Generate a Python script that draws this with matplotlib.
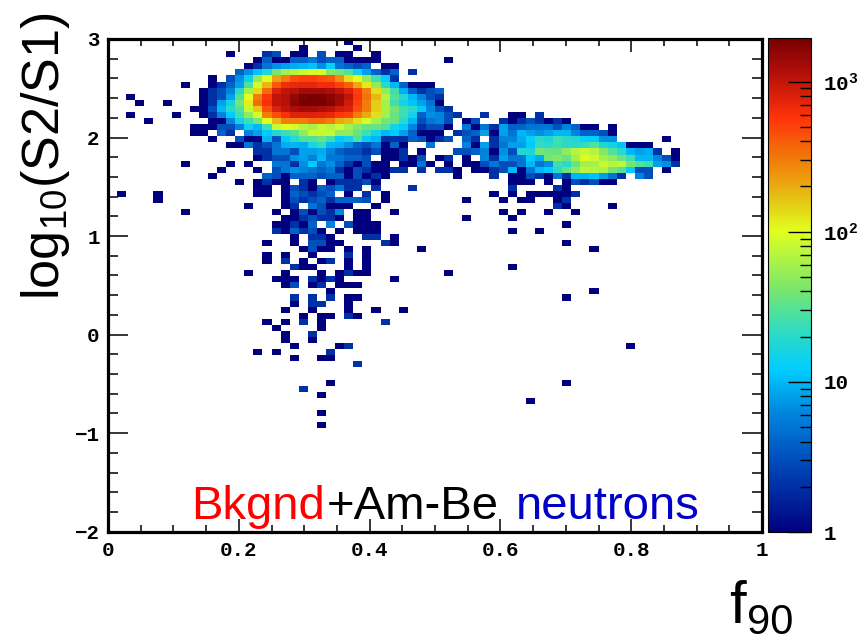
import numpy as np
import matplotlib
matplotlib.use('Agg')
import matplotlib.pyplot as plt
from matplotlib.colors import LogNorm, LinearSegmentedColormap
from matplotlib.ticker import LogLocator, NullFormatter, FixedLocator

plt.rcParams['font.family'] = ['Liberation Sans', 'DejaVu Sans']
plt.rcParams['mathtext.fontset'] = 'custom'
plt.rcParams['mathtext.rm'] = 'Liberation Sans'
plt.rcParams['mathtext.bf'] = 'Liberation Mono:bold'

# histogram binning
n_x = 72
n_y = 81
z_max = 1950

# counts per row, row 0 is the top of the plot: (row, first column, counts)
top_rows = [
    (0, 26, [1]),
    (1, 21, [1]), (1, 27, [1]),
    (2, 13, [1]), (2, 17, [2, 3, 0, 1, 1, 0, 3, 0, 1, 1, 0, 0, 1]),
    (3, 16, [1, 4, 1, 1, 4, 4, 5, 3, 4, 4, 1, 1, 1, 1]), (3, 37, [1]),
    (4, 15, [1, 2, 5, 7, 8, 9, 10, 11, 7, 13, 5, 4, 3, 4, 0, 1, 1]),
    (5, 14, [4, 7, 11, 18, 40, 60, 70, 80, 90, 90, 45, 40, 30, 14, 8, 4, 2, 4, 0, 2]),
    (6, 11, [1, 0, 3, 7, 14, 50, 100, 220, 300, 450, 500, 500, 450, 400, 260, 130, 100, 50, 25, 12, 2]),
    (7, 8, [1]), (7, 11, [1, 2, 4, 8, 28, 90, 180, 400, 650, 700, 720, 720, 650, 650, 500, 380, 200, 120, 50, 20, 10, 4, 1, 1, 1]),
    (8, 10, [1, 2, 3, 6, 20, 60, 140, 350, 800, 1000, 1100, 1300, 1300, 1300, 1200, 1000, 800, 500, 300, 130, 50, 25, 9, 4, 2, 3, 4]),
    (9, 2, [1]), (9, 10, [1, 2, 3, 8, 30, 100, 300, 550, 1000, 1100, 1500, 1800, 1900, 1850, 1600, 1400, 1000, 550, 330, 180, 70, 30, 18, 10, 6, 3, 2]),
    (10, 3, [1]), (10, 6, [1]), (10, 10, [1, 2, 8, 15, 40, 120, 350, 600, 1000, 1100, 1600, 1900, 1950, 1900, 1700, 1300, 900, 500, 300, 150, 60, 25, 15, 11, 8, 5, 1]),
    (11, 9, [1, 1, 3, 10, 20, 30, 80, 160, 450, 800, 1000, 1200, 1300, 1300, 1200, 1100, 900, 800, 450, 300, 150, 60, 40, 25, 20, 12, 6, 3, 2]),
    (12, 2, [1]), (12, 7, [1]), (12, 10, [1, 2, 6, 12, 25, 50, 90, 300, 450, 600, 800, 800, 800, 750, 700, 550, 500, 300, 200, 130, 60, 35, 25, 15, 4, 7, 6, 3, 2, 0, 0, 2, 0, 0, 1, 1, 0, 2]),
    (13, 4, [1]), (13, 11, [1, 1, 6, 15, 25, 40, 100, 180, 300, 300, 300, 350, 350, 300, 200, 180, 130, 90, 60, 40, 35, 20, 10, 3, 5, 6, 3, 0, 1, 3, 0, 0, 2, 1, 2, 3, 2, 1, 2, 1]),
    (14, 9, [1, 1, 1, 3, 3, 6, 14, 10, 25, 80, 100, 90, 70, 60, 80, 70, 85, 60, 45, 35, 35, 30, 15, 12, 6, 2, 3, 3, 1, 0, 5, 1, 5, 2, 8, 4, 4, 5, 5, 5, 3, 6, 4, 1, 1, 0, 1]),
    (15, 9, [1, 1, 0, 4, 2, 0, 6, 8, 12, 18, 25, 30, 50, 80, 80, 80, 50, 50, 35, 25, 15, 10, 12, 8, 4, 1, 1, 1, 0, 2, 3, 4, 8, 1, 8, 5, 10, 8, 7, 8, 10, 10, 6, 4, 4, 3, 1]),
    (16, 11, [1, 0, 0, 3, 1, 1, 10, 3, 12, 20, 30, 30, 35, 25, 12, 15, 30, 12, 10, 2, 2, 2, 4, 3, 1, 2, 3, 0, 4, 2, 0, 2, 6, 6, 9, 13, 20, 17, 25, 20, 18, 13, 12, 7, 7]),
    (16, 61, [1]),
    (17, 13, [1, 1, 5, 2, 3, 5, 9, 10, 9, 16, 23, 10, 9, 7, 4, 3, 5, 1, 4, 1, 0, 0, 5, 0, 0, 0, 6, 1, 8, 2, 5, 8, 8, 12, 22, 20, 25, 20, 20, 22, 30, 18, 15, 11, 1, 1, 1]),
    (18, 16, [2, 2, 5, 5, 3, 8, 8, 9, 6, 4, 3, 3, 2, 3, 1, 1, 2, 0, 1, 0, 0, 0, 3, 3, 4, 6, 1, 7, 3, 18, 17, 40, 35, 35, 50, 70, 80, 70, 45, 30, 20, 10, 8, 9, 2, 0, 1]),
    (19, 16, [1, 2, 3, 3, 7, 8, 6, 10, 5, 5, 4, 4, 3, 0, 1, 1, 2, 1, 3, 0, 1, 2, 0, 1, 0, 6, 2, 8, 5, 5, 12, 9, 40, 45, 35, 60, 95, 85, 60, 50, 35, 25, 10, 10, 6, 3, 1]),
    (20, 8, [1]), (20, 13, [1, 0, 1]), (20, 18, [5, 5, 2, 7, 12, 5, 7, 4, 2, 1, 3, 1, 1, 0, 1, 1, 5, 1, 0, 1, 0, 1, 1, 3, 5, 3, 3, 5, 10, 5, 7, 25, 20, 35, 60, 60, 80, 70, 75, 40, 30, 25, 8, 7, 2]),
    (21, 12, [1, 0, 0, 0, 1, 0, 3, 5, 7, 6, 5, 4, 5, 2, 1, 3, 2, 1, 1, 2, 2, 0, 2, 0, 2, 2, 1, 0, 1, 1, 2, 3, 10, 1, 5, 10, 12, 20, 35, 50, 75, 70, 65, 40, 30, 12, 3, 3, 0, 1]),
    (22, 11, [1, 0, 0, 0, 0, 0, 4, 3, 1, 4, 4, 4, 3, 4, 4, 1, 3, 1, 2, 1]), (22, 38, [1, 0, 0, 0, 2, 0, 1, 1, 3, 2, 1, 5, 2, 10, 10, 11, 8, 5, 2, 0, 6, 3]),
    (23, 14, [1, 0, 1, 2, 1, 1, 0, 2, 1, 0, 1, 2, 2, 2, 3, 1]), (23, 44, [1, 1, 1, 0, 1, 0, 1, 3, 2, 3, 1, 1]),
    (24, 16, [1, 1, 0, 1, 3, 2, 1, 4, 3, 5, 2, 2, 0, 2]), (24, 33, [2]), (24, 44, [2, 0, 0, 0, 0, 2, 1]),
    (25, 1, [1]), (25, 5, [1]), (25, 16, [1, 1, 0, 1, 4, 3, 2, 3, 4, 0, 1, 0, 2, 0, 1]), (25, 42, [1, 0, 1, 0, 1, 1, 1, 1, 1, 2]),
    (26, 5, [1]), (26, 19, [1, 3, 2, 3, 4, 2, 4, 4, 4, 3, 0, 1]), (26, 39, [1, 0, 0, 0, 1, 0, 1, 1, 0, 0, 1, 2]),
    (27, 15, [1, 0, 0, 0, 1, 2, 0, 5, 3, 1, 1, 1, 0, 0, 1]), (27, 49, [2, 1, 0, 0, 0, 0, 1]),
]

bottom_rows = [
    (28, 8, [1]), (28, 18, [1, 0, 1, 3, 1, 3, 2, 6, 0, 1, 1, 0, 0, 1]), (28, 43, [1, 0, 1, 0, 0, 1, 0, 0, 1]),
    (29, 19, [1, 1, 2, 3, 2, 2, 1, 0, 1, 1]), (29, 39, [1, 0, 0, 0, 0, 1]),
    (30, 18, [1, 1, 2, 1, 4, 0, 6, 0, 3, 1, 1, 1]), (30, 50, [1]),
    (31, 18, [2, 1, 4, 2, 3, 1, 0, 1, 0, 1, 1, 1]), (31, 44, [1, 0, 0, 1]),
    (32, 20, [1, 0, 2, 2, 1, 0, 0, 0, 2, 2, 0, 1]),
    (33, 17, [1, 0, 0, 1, 0, 3, 3, 1, 1, 0, 0, 0, 0, 2, 1]), (33, 50, [1]),
    (34, 21, [1, 3, 1, 1, 0, 1, 0, 1]), (34, 34, [1]), (34, 53, [1]),
    (35, 17, [1, 0, 1, 0, 0, 1, 0, 0, 0, 2, 0, 1]),
    (36, 17, [1, 0, 2, 0, 1, 0, 1, 2, 0, 1, 0, 1]),
    (37, 20, [2, 1, 1, 0, 0, 0, 1, 0, 1]), (37, 44, [1]),
    (38, 15, [1, 0, 0, 0, 1, 0, 0, 0, 1, 0, 1, 2, 1, 1]), (38, 37, [1]),
    (39, 18, [1, 1, 1, 0, 2, 1, 2, 1]), (39, 31, [1]),
    (40, 19, [1, 3, 0, 1, 2, 0, 1, 1, 1]),
    (41, 24, [1]), (41, 53, [1]),
    (42, 20, [2, 0, 2, 0, 2, 0, 1, 1]), (42, 50, [1]),
    (43, 20, [1, 0, 2, 2, 0, 0, 1]),
    (44, 19, [1, 0, 0, 1, 0, 0, 0, 1, 0, 0, 1, 0, 0, 1]),
    (45, 21, [1, 0, 1, 1, 0, 2, 1]),
    (46, 17, [1, 0, 1, 0, 2, 0, 1]), (46, 30, [2]),
    (47, 18, [1, 0, 0, 0, 0, 1]),
    (48, 19, [1, 0, 0, 2]),
    (49, 19, [1, 0, 0, 1]),
    (50, 20, [1, 0, 0, 0, 0, 1, 2]), (50, 57, [1]),
    (51, 16, [1, 0, 1, 0, 0, 0, 0, 0, 2]),
    (52, 20, [1, 0, 0, 1, 1]),
    (53, 27, [2]),
    (56, 24, [1]), (56, 50, [1]),
    (57, 21, [2]),
    (58, 23, [1]),
    (59, 46, [1]),
    (61, 23, [1]),
    (63, 23, [1]),
]

x_ticks = [0, 0.2, 0.4, 0.6, 0.8, 1]
x_labels = ['0', '0.2', '0.4', '0.6', '0.8', '1']
y_ticks = [-2, -1, 0, 1, 2, 3]
y_labels = ['\u22122', '\u22121', '0', '1', '2', '3']
z_ticks = [1, 10, 100, 1000]
z_labels = ['1', '10', r'$\mathbf{10^{2}}$', r'$\mathbf{10^{3}}$']

counts = np.zeros((n_y, n_x))
for row, first, values in top_rows + bottom_rows:
    counts[n_y - 1 - row, first:first + len(values)] = values

# palette taken off the colour bar
stops = [(0.0, '#00007f'), (0.15, '#0050be'), (0.25, '#008ce1'), (0.328, '#00cdff'),
         (0.41, '#32dcbe'), (0.49, '#78e66e'), (0.61, '#e1ff1e'), (0.68, '#e6be14'),
         (0.747, '#f0820a'), (0.84, '#ff320a'), (0.93, '#b40f0a'), (1.0, '#780000')]
cmap = LinearSegmentedColormap.from_list('root_rainbow', stops, N=256)

W, H = 860, 642
fig = plt.figure(figsize=(W / 100, H / 100), dpi=100)
ax = fig.add_axes([108 / W, 1 - 531.7 / H, 654 / W, 492.7 / H])
cax = fig.add_axes([767.7 / W, 1 - 532 / H, 43 / W, 494 / H])

xe = np.linspace(0, 1, n_x + 1)
ye = np.linspace(-2, 3, n_y + 1)
mesh = ax.pcolormesh(xe, ye, np.ma.masked_equal(counts, 0), cmap=cmap,
                     norm=LogNorm(vmin=1, vmax=z_max))

mono = dict(family='Liberation Mono', weight='bold', size=15)
ax.set_xlim(0, 1)
ax.set_ylim(-2, 3)
ax.set_xticks(x_ticks)
ax.set_xticklabels(x_labels, **mono)
ax.set_yticks(y_ticks)
ax.set_yticklabels(y_labels, **mono)
ax.xaxis.set_minor_locator(FixedLocator(np.arange(0, 1.001, 0.05)))
ax.yaxis.set_minor_locator(FixedLocator(np.arange(-2, 3.001, 0.2)))
ax.tick_params(axis='x', which='major', direction='in', top=True, length=9.5, width=1.1, pad=7)
ax.tick_params(axis='x', which='minor', direction='in', top=True, length=4.7, width=1.1)
ax.tick_params(axis='y', which='major', direction='in', right=True, length=14.5, width=1.1, pad=6)
ax.tick_params(axis='y', which='minor', direction='in', right=True, length=7.2, width=1.1)
for s in ax.spines.values():
    s.set_linewidth(2.3)

cbar = fig.colorbar(mesh, cax=cax)
cbar.set_ticks(z_ticks)
cbar.set_ticklabels(z_labels, **mono)
cax.yaxis.set_minor_locator(LogLocator(base=10, subs=np.arange(2, 10), numticks=10))
cax.yaxis.set_minor_formatter(NullFormatter())
cax.tick_params(which='major', direction='in', length=16.5, width=1.0, pad=9)
cax.tick_params(which='minor', direction='in', length=8, width=1.0)
cbar.outline.set_linewidth(0.8)

# big axis titles
fig.text(45 / W, 1 - 156 / H, r'log$_{10}$(S2/S1)', rotation=90, fontsize=37.5,
         ha='center', va='center')
fig.text(729 / W, 1 - 623 / H, 'f', fontsize=43, ha='left', va='baseline')
fig.text(747 / W, 1 - 634 / H, '90', fontsize=30, ha='left', va='baseline')

# coloured label inside the frame
fig.text(191 / W, 1 - 519.3 / H, 'Bkgnd', color='#ff0000', fontsize=34, va='baseline')
fig.text(327 / W, 1 - 519.3 / H, '+Am-Be', color='black', fontsize=34, va='baseline')
fig.text(516 / W, 1 - 519.3 / H, 'neutrons', color='#0000c8', fontsize=34, va='baseline')

fig.savefig('out.png', dpi=100)
